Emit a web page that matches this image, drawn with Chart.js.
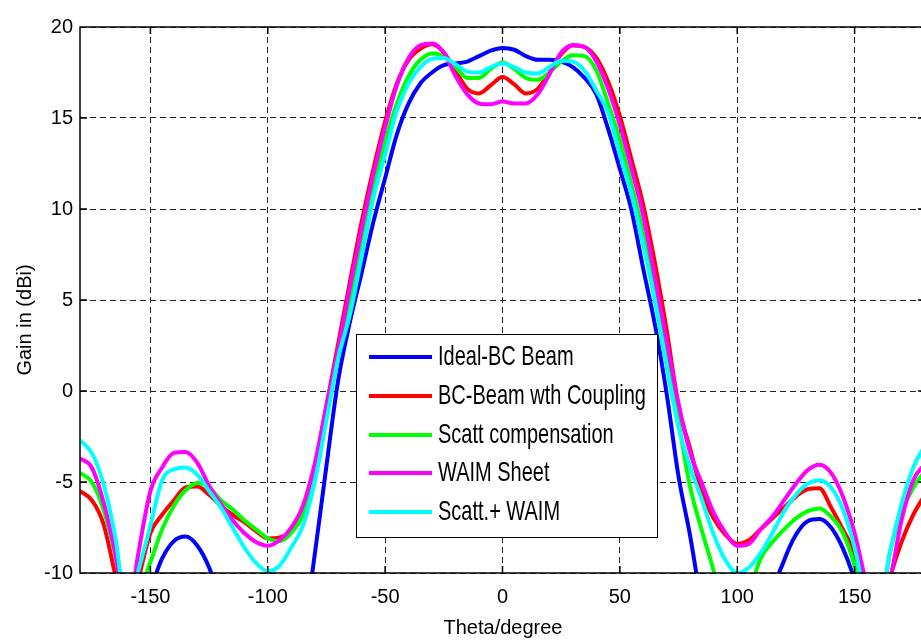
<!DOCTYPE html>
<html>
<head>
<meta charset="utf-8">
<script src="https://cdn.jsdelivr.net/npm/chart.js@4.4.0/dist/chart.umd.min.js"></script>
<style>
    html, body { margin: 0; padding: 0; background: #fff; overflow: hidden; }
    #wrap { width: 930px; height: 642px; }
</style>
</head>
<body>
<div id="wrap"><canvas id="gain" width="930" height="642"></canvas></div>
<script>
// angle grid (degrees)
const theta = [-180, -175, -170, -165, -160, -155, -150, -145, -140, -135, -130, -125, -120, -115, -110, -105, -100, -95, -90, -85, -80, -75, -70, -65, -60, -55, -50, -45, -40, -35, -30, -25, -20, -15, -10, -5, 0, 5, 10, 15, 20, 25, 30, 35, 40, 45, 50, 55, 60, 65, 70, 75, 80, 85, 90, 95, 100, 105, 110, 115, 120, 125, 130, 135, 140, 145, 150, 155, 160, 165, 170, 175, 180];

const idealBC = [-14, -16, -18, -18, -15, -12.5, -10.9, -9.2, -8.25, -8.0, -8.5, -9.7, -11.7, -15, -18, -20, -20, -18, -16, -13.5, -9.0, -4.1, 0.6, 3.8, 6.5, 9.3, 11.7, 14.1, 15.8, 16.9, 17.5, 17.9, 18.0, 18.1, 18.4, 18.7, 18.85, 18.75, 18.4, 18.2, 18.2, 18.1, 17.8, 17.2, 16.3, 14.4, 12.2, 9.9, 6.7, 3.6, -0.2, -4.7, -8.0, -12, -16, -19, -21, -19, -16, -11.3, -9.3, -7.9, -7.15, -7.03, -7.5, -8.65, -10.4, -13, -16, -18, -18, -16, -14];
const bcCoupling = [-5.5, -6.0, -7.3, -10.1, -13, -10.3, -7.8, -6.8, -6.0, -5.3, -5.25, -5.7, -6.3, -6.8, -7.2, -7.7, -8.1, -8.05, -7.7, -6.6, -4.2, -0.8, 2.6, 6.0, 9.3, 12.2, 14.8, 16.9, 18.2, 18.8, 19.05, 18.6, 17.6, 16.6, 16.35, 16.8, 17.25, 16.85, 16.35, 16.6, 17.5, 18.5, 19.0, 18.9, 18.3, 17.0, 15.1, 12.7, 10.2, 7.0, 3.3, -0.8, -3.2, -5.6, -7.0, -7.9, -8.4, -8.2, -7.6, -7.0, -6.4, -5.8, -5.4, -5.35, -6.4, -7.6, -8.9, -11, -13, -10.3, -8.3, -6.8, -5.7];
const scattComp = [-4.5, -5.0, -6.5, -8.9, -11.2, -11.0, -9.4, -7.6, -6.3, -5.45, -5.05, -5.3, -6.0, -6.5, -7.1, -7.6, -8.1, -8.25, -7.8, -6.8, -4.8, -1.3, 2.0, 5.0, 8.1, 11.2, 13.7, 15.8, 17.3, 18.2, 18.55, 18.4, 17.8, 17.2, 17.2, 17.7, 18.05, 17.7, 17.2, 17.1, 17.5, 18.1, 18.45, 18.4, 17.6, 15.8, 13.8, 11.3, 8.6, 5.4, 1.9, -1.7, -5.3, -7.7, -9.9, -12.5, -14, -11.2, -9.2, -8.3, -7.6, -7.0, -6.6, -6.45, -6.9, -7.8, -9.6, -12.5, -12.5, -8.9, -6.7, -5.3, -4.4];
const waimSheet = [-3.7, -4.2, -6.1, -8.9, -12.5, -8.8, -5.5, -4.2, -3.4, -3.35, -3.95, -5.2, -6.2, -7.1, -7.8, -8.3, -8.5, -8.2, -7.5, -6.3, -4.0, -0.8, 2.3, 5.7, 8.9, 11.9, 14.5, 16.8, 18.3, 19.0, 19.1, 18.6, 17.3, 16.3, 15.8, 15.75, 15.9, 15.8, 15.8, 16.3, 17.4, 18.6, 19.0, 18.9, 18.1, 16.6, 14.6, 12.2, 9.6, 6.2, 2.7, -0.7, -3.4, -5.1, -6.7, -7.8, -8.5, -8.4, -7.6, -6.9, -6.0, -5.1, -4.35, -4.05, -4.5, -5.8, -7.8, -10.6, -13, -10.5, -7.1, -4.9, -4.0];
const scattWaim = [-2.7, -3.4, -5.1, -8.0, -12, -9.8, -7.4, -4.9, -4.3, -4.2, -4.6, -5.5, -6.4, -7.5, -8.6, -9.45, -9.9, -9.6, -8.6, -7.4, -5.0, -1.6, 1.8, 4.2, 7.4, 10.6, 13.0, 15.4, 16.9, 17.8, 18.25, 18.3, 17.95, 17.55, 17.5, 17.8, 18.0, 17.8, 17.5, 17.45, 17.8, 18.15, 18.1, 17.6, 16.5, 15.3, 13.0, 10.8, 8.0, 4.9, 1.3, -2.0, -4.2, -6.0, -7.9, -9.3, -10, -9.7, -8.9, -7.8, -6.6, -5.7, -5.1, -4.9, -5.3, -6.5, -8.6, -11.5, -12.5, -8.9, -6.2, -4.2, -3.0];

const seriesNames  = ['Ideal-BC Beam', 'BC-Beam wth Coupling', 'Scatt compensation', 'WAIM Sheet', 'Scatt.+ WAIM'];
const seriesColors = ['#0000ff', '#ff0000', '#00ff00', '#ff00ff', '#00ffff'];
const seriesValues = [idealBC, bcCoupling, scattComp, waimSheet, scattWaim];

const xTicks = [-150, -100, -50, 0, 50, 100, 150];
const yTicks = [-10, -5, 0, 5, 10, 15, 20];

const FONT = '"Liberation Sans", Arial, Helvetica, sans-serif';

// frame, inner tick marks, legend box and axis titles (matlab look)
const matlabDecor = {
    id: 'matlabDecor',
    afterDraw(chart) {
        const { ctx, chartArea: a, scales: { x, y } } = chart;
        ctx.save();
        ctx.strokeStyle = '#000';
        ctx.lineWidth = 1.5;
        ctx.setLineDash([]);
        ctx.beginPath();
        ctx.moveTo(a.right, a.top);
        ctx.lineTo(a.left, a.top);
        ctx.lineTo(a.left, a.bottom);
        ctx.lineTo(a.right, a.bottom);
        xTicks.forEach(v => {
            const px = x.getPixelForValue(v);
            ctx.moveTo(px, a.bottom); ctx.lineTo(px, a.bottom - 7);
            ctx.moveTo(px, a.top);    ctx.lineTo(px, a.top + 7);
        });
        yTicks.forEach(v => {
            const py = y.getPixelForValue(v);
            ctx.moveTo(a.left, py);  ctx.lineTo(a.left + 7, py);
            ctx.moveTo(a.right, py); ctx.lineTo(a.right - 7, py);
        });
        ctx.stroke();

        // legend
        const box = { l: 356, t: 334, w: 301, h: 203 };
        ctx.fillStyle = '#fff';
        ctx.fillRect(box.l, box.t, box.w, box.h);
        ctx.lineWidth = 1;
        ctx.strokeRect(box.l + 0.5, box.t + 0.5, box.w, box.h);
        const rows = [357, 396, 435, 473, 512];
        chart.data.datasets.forEach((ds, i) => {
            const ry = rows[i];
            ctx.strokeStyle = ds.borderColor;
            ctx.lineWidth = 4;
            ctx.beginPath();
            ctx.moveTo(369, ry); ctx.lineTo(432, ry);
            ctx.stroke();
            ctx.save();
            ctx.translate(438, ry + 1);
            ctx.scale(1, 1.35);
            ctx.fillStyle = '#000';
            ctx.font = '20px ' + FONT;
            ctx.textBaseline = 'middle';
            ctx.textAlign = 'left';
            ctx.fillText(ds.label, 0, 0);
            ctx.restore();
        });

        // axis titles
        ctx.fillStyle = '#000';
        ctx.font = '20px ' + FONT;
        ctx.textAlign = 'center';
        ctx.textBaseline = 'middle';
        ctx.fillText('Theta/degree', 503, 628);
        ctx.save();
        ctx.translate(25, 320);
        ctx.rotate(-Math.PI / 2);
        ctx.fillText('Gain in (dBi)', 0, 0);
        ctx.restore();
        ctx.restore();
    }
};

new Chart(document.getElementById('gain'), {
    type: 'line',
    data: {
        datasets: seriesValues.map((vals, i) => ({
            label: seriesNames[i],
            data: theta.map((t, k) => ({ x: t, y: vals[k] })),
            borderColor: seriesColors[i],
            backgroundColor: seriesColors[i],
            borderWidth: 4,
            pointRadius: 0,
            fill: false,
            cubicInterpolationMode: 'monotone',
            clip: 0,
            order: seriesValues.length - i,
        })),
    },
    options: {
        responsive: false,
        animation: false,
        devicePixelRatio: 1,
        layout: { padding: { left: 0, right: 5, top: 27, bottom: 0 } },
        plugins: { legend: { display: false }, tooltip: { enabled: false } },
        scales: {
            x: {
                type: 'linear',
                min: -180,
                max: 180,
                afterBuildTicks: s => { s.ticks = xTicks.map(v => ({ value: v })); },
                afterFit: s => { s.height = 69; },
                grid: { color: '#222', lineWidth: 1, drawTicks: false },
                border: { display: false, dash: [6, 4] },
                ticks: { color: '#000', padding: 12, maxRotation: 0, font: { family: FONT, size: 20 } },
            },
            y: {
                min: -10,
                max: 20,
                afterBuildTicks: s => { s.ticks = yTicks.map(v => ({ value: v })); },
                afterFit: s => { s.width = 80; },
                grid: { color: '#222', lineWidth: 1, drawTicks: false },
                border: { display: false, dash: [6, 4] },
                ticks: { color: '#000', padding: 7, font: { family: FONT, size: 20 } },
            },
        },
    },
    plugins: [matlabDecor],
});
</script>
</body>
</html>
